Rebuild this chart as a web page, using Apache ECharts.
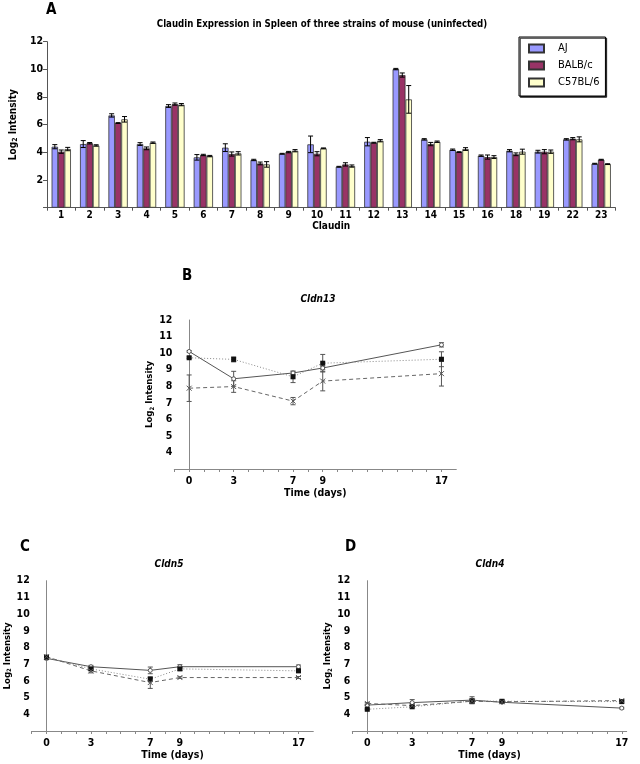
<!DOCTYPE html>
<html>
<head>
<meta charset="utf-8">
<script src="https://cdn.jsdelivr.net/npm/echarts@6/dist/echarts.min.js"></script>
<style>
html, body { margin: 0; padding: 0; background: #fff; }
#main { width: 640px; height: 764px; }
</style>
</head>
<body>
<div id="main"></div>
<script>
// panel A - claudin expression (uninfected)
var claudins = ['1', '2', '3', '4', '5', '6', '7', '8', '9', '10', '11', '12', '13', '14', '15', '16', '18', '19', '22', '23'];
var ajMean   = [4.41, 4.60, 6.67, 4.60, 7.35, 3.64, 4.34, 3.45, 3.90, 4.58, 2.96, 4.77, 10.02, 4.94, 4.19, 3.76, 4.12, 4.05, 4.94, 3.18];
var balbMean = [4.05, 4.66, 6.12, 4.29, 7.49, 3.81, 3.88, 3.20, 4.02, 3.90, 3.13, 4.70, 9.59, 4.60, 4.02, 3.66, 3.86, 4.05, 4.99, 3.47];
var c57Mean  = [4.24, 4.50, 6.39, 4.70, 7.45, 3.73, 3.93, 3.13, 4.12, 4.29, 3.01, 4.84, 7.83, 4.77, 4.24, 3.66, 4.05, 4.05, 4.94, 3.15];
var ajErr    = [0.15, 0.25, 0.12, 0.10, 0.10, 0.20, 0.28, 0.05, 0.03, 0.60, 0.03, 0.30, 0.05, 0.05, 0.05, 0.05, 0.08, 0.10, 0.05, 0.03];
var balbErr  = [0.12, 0.05, 0.03, 0.10, 0.08, 0.05, 0.15, 0.10, 0.05, 0.15, 0.12, 0.03, 0.15, 0.12, 0.03, 0.15, 0.10, 0.15, 0.08, 0.03];
var c57Err   = [0.12, 0.05, 0.20, 0.05, 0.08, 0.05, 0.12, 0.20, 0.08, 0.03, 0.08, 0.08, 1.00, 0.05, 0.10, 0.10, 0.18, 0.12, 0.18, 0.03];

// panels B-D - time course
var days = [0, 3, 7, 9, 17];
var dayTicks = [-1, 0, 1, 2, 3, 4, 5, 6, 7, 8, 9, 10, 11, 12, 13, 14, 15, 16, 17];

var cldn13Aj = [10.10, 8.45, 8.80, 9.10, 10.50];
var cldn13AjErr = [0.05, 0.45, 0.08, 0.10, 0.13];
var cldn13Balb = [9.72, 9.62, 8.57, 9.39, 9.63];
var cldn13BalbErr = [0.05, 0.15, 0.35, 0.53, 0.45];
var cldn13C57 = [7.88, 7.98, 7.10, 8.31, 8.76];
var cldn13C57Err = [0.80, 0.35, 0.22, 0.59, 0.75];

var cldn5Aj = [7.35, 6.85, 6.63, 6.85, 6.85];
var cldn5AjErr = [0.08, 0.08, 0.20, 0.12, 0.10];
var cldn5Balb = [7.42, 6.72, 6.10, 6.72, 6.60];
var cldn5BalbErr = [0.06, 0.10, 0.10, 0.10, 0.08];
var cldn5C57 = [7.45, 6.60, 5.90, 6.20, 6.20];
var cldn5C57Err = [0.08, 0.12, 0.35, 0.05, 0.06];

var cldn4Aj = [4.55, 4.70, 4.85, 4.72, 4.37];
var cldn4AjErr = [0.05, 0.18, 0.20, 0.05, 0.05];
var cldn4Balb = [4.30, 4.45, 4.80, 4.78, 4.76];
var cldn4BalbErr = [0.03, 0.05, 0.10, 0.05, 0.08];
var cldn4C57 = [4.65, 4.52, 4.78, 4.75, 4.82];
var cldn4C57Err = [0.05, 0.10, 0.15, 0.05, 0.05];

var FONT = '"DejaVu Sans Condensed", "DejaVu Sans", sans-serif';
var BAR_GAP = 0.32;

var chart = echarts.init(document.getElementById('main'));

// error bars on the grouped bar chart, k = position in the group
function barErrors(mean, err, k) {
	return {
		type: 'custom',
		xAxisIndex: 0,
		yAxisIndex: 0,
		z: 5,
		data: mean.map(function(m, i) { return [i, m, err[i]]; }),
		encode: { x: 0, y: 1 },
		renderItem: function(params, api) {
			var band = api.size([1, 0])[0];
			var dx = (k - 1) * band * (1 - BAR_GAP) / 3;
			var top = api.coord([api.value(0), api.value(1) + api.value(2)]);
			var bot = api.coord([api.value(0), api.value(1) - api.value(2)]);
			var x = top[0] + dx, c = 2.5;
			var st = { stroke: '#000', lineWidth: 1 };
			return { type: 'group', children: [
				{ type: 'line', shape: { x1: x, y1: top[1], x2: x, y2: bot[1] }, style: st },
				{ type: 'line', shape: { x1: x - c, y1: top[1], x2: x + c, y2: top[1] }, style: st },
				{ type: 'line', shape: { x1: x - c, y1: bot[1], x2: x + c, y2: bot[1] }, style: st }
			] };
		}
	};
}

function lineErrors(idx, mean, err) {
	return {
		type: 'custom',
		xAxisIndex: idx,
		yAxisIndex: idx,
		z: 4,
		data: days.map(function(d, i) { return [d, mean[i], err[i]]; }),
		encode: { x: 0, y: 1 },
		renderItem: function(params, api) {
			var top = api.coord([api.value(0), api.value(1) + api.value(2)]);
			var bot = api.coord([api.value(0), api.value(1) - api.value(2)]);
			var x = top[0], c = 2.5;
			var st = { stroke: '#555', lineWidth: 1 };
			return { type: 'group', children: [
				{ type: 'line', shape: { x1: x, y1: top[1], x2: x, y2: bot[1] }, style: st },
				{ type: 'line', shape: { x1: x - c, y1: top[1], x2: x + c, y2: top[1] }, style: st },
				{ type: 'line', shape: { x1: x - c, y1: bot[1], x2: x + c, y2: bot[1] }, style: st }
			] };
		}
	};
}

// kind: 0 solid/open circle, 1 dotted/filled square, 2 dashed/cross
function lineSeries(idx, name, mean, kind) {
	var s = {
		name: name,
		type: 'line',
		xAxisIndex: idx,
		yAxisIndex: idx,
		z: 5,
		data: days.map(function(d, i) { return [d, mean[i]]; }),
		lineStyle: { width: 1, color: '#555', type: 'solid' },
		itemStyle: { color: '#fff', borderColor: '#555', borderWidth: 1 },
		symbol: 'circle',
		symbolSize: 4,
		animation: false
	};
	if (kind == 1) {
		s.lineStyle = { width: 1, color: '#888', type: [1, 2] };
		s.symbol = 'rect';
		s.symbolSize = 5;
		s.itemStyle = { color: '#111', borderColor: '#111', borderWidth: 0 };
	} else if (kind == 2) {
		s.lineStyle = { width: 1, color: '#666', type: [4, 3] };
		s.symbol = 'path://M0,0L10,10M10,0L0,10';
		s.symbolSize = 5;
		s.itemStyle = { color: 'none', borderColor: '#555', borderWidth: 1 };
	}
	return s;
}

function timeAxis(idx, max) {
	return {
		gridIndex: idx,
		type: 'value',
		min: -1,
		max: max,
		interval: 1,
		splitLine: { show: false },
		axisLine: { lineStyle: { color: '#888', width: 1 } },
		axisTick: { show: true, length: 3, customValues: dayTicks, lineStyle: { color: '#888' } },
		axisLabel: {
			customValues: days,
			color: '#000', fontFamily: FONT, fontWeight: 'bold', fontSize: 10.5, margin: 7,
			formatter: function(v) { return days.indexOf(v) >= 0 ? String(v) : ''; }
		},
		name: 'Time (days)',
		nameLocation: 'middle',
		nameGap: 19,
		nameTextStyle: { color: '#000', fontFamily: FONT, fontWeight: 'bold', fontSize: 10.5 }
	};
}

function intensityAxis(idx) {
	return {
		gridIndex: idx,
		type: 'value',
		min: 3,
		max: 12,
		interval: 1,
		splitLine: { show: false },
		axisLine: { show: true, lineStyle: { color: '#888', width: 1 } },
		axisTick: { show: false },
		axisLabel: {
			color: '#000', fontFamily: FONT, fontWeight: 'bold', fontSize: 10.5, margin: 2,
			formatter: function(v) { return v == 3 ? '' : String(v); }
		},
		name: 'Log{s|2} Intensity',
		nameLocation: 'middle',
		nameRotate: 90,
		nameGap: 18,
		nameTextStyle: {
			color: '#000', fontFamily: FONT, fontWeight: 'bold', fontSize: 9.5,
			rich: { s: { fontSize: 6, fontFamily: FONT, fontWeight: 'bold', padding: [5, 0, 0, 0] } }
		}
	};
}

function label(text, left, top, size, italic, align) {
	return {
		text: text, left: left, top: top, padding: 0,
		textAlign: align || 'left',
		textStyle: { color: '#000', fontFamily: FONT, fontWeight: 'bold', fontSize: size, fontStyle: italic ? 'italic' : 'normal' }
	};
}

var option = {
	animation: false,
	title: [
		label('A', 46, 3, 15),
		label('Claudin Expression in Spleen of three strains of mouse (uninfected)', 322, 19, 9.6, false, 'center'),
		label('B', 182, 269, 15),
		label('Cldn13', 318, 294, 10, true, 'center'),
		label('C', 20, 540, 15),
		label('Cldn5', 169, 559, 10, true, 'center'),
		label('D', 345, 540, 15),
		label('Cldn4', 490, 559, 10, true, 'center')
	],
	legend: {
		data: ['AJ', 'BALB/c', 'C57BL/6'],
		orient: 'vertical',
		left: 519,
		top: 37,
		icon: 'rect',
		itemWidth: 15,
		itemHeight: 8,
		itemGap: 4,
		padding: [5, 6, 7, 9],
		borderColor: '#000',
		borderWidth: 1,
		borderRadius: 0,
		backgroundColor: '#fff',
		shadowColor: '#222',
		shadowOffsetX: 1.2,
		shadowOffsetY: 1.2,
		shadowBlur: 0,
		textStyle: { color: '#000', fontFamily: FONT, fontSize: 11, lineHeight: 13, padding: [0, 0, 0, 9] }
	},
	grid: [
		{ left: 40.5, right: 24.6, top: 41.7, height: 166 },
		{ left: 174.3, top: 320, width: 282, height: 149 },
		{ left: 31.7, top: 580.7, width: 281.6, height: 150.3 },
		{ left: 352.3, top: 580.7, width: 274.4, height: 150.3 }
	],
	xAxis: [
		{
			gridIndex: 0,
			type: 'category',
			data: claudins,
			axisLine: { lineStyle: { color: '#555', width: 1 } },
			axisTick: { show: true, length: 3, lineStyle: { color: '#555' } },
			axisLabel: { color: '#000', fontFamily: FONT, fontWeight: 'bold', fontSize: 10, margin: 3, interval: 0 },
			name: 'Claudin',
			nameLocation: 'middle',
			nameGap: 13,
			nameTextStyle: { color: '#000', fontFamily: FONT, fontWeight: 'bold', fontSize: 10 }
		},
		timeAxis(1, 18),
		timeAxis(2, 18),
		timeAxis(3, 17.33)
	],
	yAxis: [
		{
			gridIndex: 0,
			type: 'value',
			min: 0,
			max: 12,
			interval: 2,
			splitLine: { show: false },
			axisLine: { show: true, lineStyle: { color: '#555', width: 1 } },
			axisTick: { show: true, length: 4, lineStyle: { color: '#555' } },
			axisLabel: {
				color: '#000', fontFamily: FONT, fontWeight: 'bold', fontSize: 10.5, margin: 4,
				formatter: function(v) { return v == 0 ? '' : String(v); }
			},
			name: 'Log{s|2} Intensity',
			nameLocation: 'middle',
			nameRotate: 90,
			nameGap: 18,
			nameTextStyle: {
				color: '#000', fontFamily: FONT, fontWeight: 'bold', fontSize: 10,
				rich: { s: { fontSize: 7, fontFamily: FONT, fontWeight: 'bold', padding: [5, 0, 0, 0] } }
			}
		},
		intensityAxis(1),
		intensityAxis(2),
		intensityAxis(3)
	],
	series: [
		{ name: 'AJ', type: 'bar', xAxisIndex: 0, yAxisIndex: 0, data: ajMean, barGap: '0%', barCategoryGap: '32%',
		  itemStyle: { color: '#9999FF', borderColor: '#333', borderWidth: 0.8 } },
		{ name: 'BALB/c', type: 'bar', xAxisIndex: 0, yAxisIndex: 0, data: balbMean, barGap: '0%', barCategoryGap: '32%',
		  itemStyle: { color: '#993366', borderColor: '#333', borderWidth: 0.8 } },
		{ name: 'C57BL/6', type: 'bar', xAxisIndex: 0, yAxisIndex: 0, data: c57Mean, barGap: '0%', barCategoryGap: '32%',
		  itemStyle: { color: '#FFFFCC', borderColor: '#333', borderWidth: 0.8 } },
		barErrors(ajMean, ajErr, 0),
		barErrors(balbMean, balbErr, 1),
		barErrors(c57Mean, c57Err, 2),

		lineSeries(1, 'AJ Cldn13', cldn13Aj, 0),
		lineSeries(1, 'BALB/c Cldn13', cldn13Balb, 1),
		lineSeries(1, 'C57BL/6 Cldn13', cldn13C57, 2),
		lineErrors(1, cldn13Aj, cldn13AjErr),
		lineErrors(1, cldn13Balb, cldn13BalbErr),
		lineErrors(1, cldn13C57, cldn13C57Err),

		lineSeries(2, 'AJ Cldn5', cldn5Aj, 0),
		lineSeries(2, 'BALB/c Cldn5', cldn5Balb, 1),
		lineSeries(2, 'C57BL/6 Cldn5', cldn5C57, 2),
		lineErrors(2, cldn5Aj, cldn5AjErr),
		lineErrors(2, cldn5Balb, cldn5BalbErr),
		lineErrors(2, cldn5C57, cldn5C57Err),

		lineSeries(3, 'AJ Cldn4', cldn4Aj, 0),
		lineSeries(3, 'BALB/c Cldn4', cldn4Balb, 1),
		lineSeries(3, 'C57BL/6 Cldn4', cldn4C57, 2),
		lineErrors(3, cldn4Aj, cldn4AjErr),
		lineErrors(3, cldn4Balb, cldn4BalbErr),
		lineErrors(3, cldn4C57, cldn4C57Err)
	]
};

chart.setOption(option);
</script>
</body>
</html>
